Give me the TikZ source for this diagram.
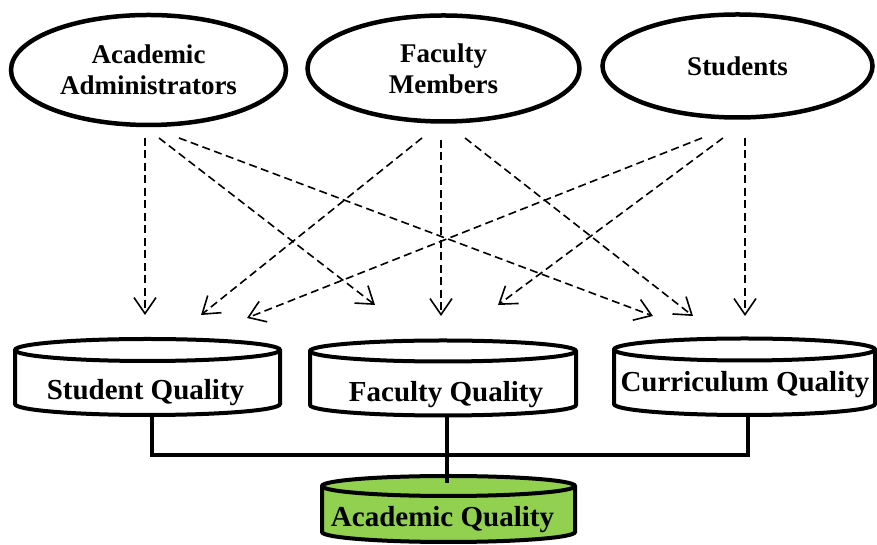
\documentclass[tikz,border=0pt]{standalone}
\usepackage{fontspec}
\setmainfont{Liberation Serif}
\usetikzlibrary{arrows.meta,shapes.geometric}
\definecolor{aqgreen}{HTML}{92D050}
% #1 left x, #2 right x, #3 top-ellipse centre y, #4 bottom-ellipse centre y, #5 y radius, #6 fill
\newcommand\drawdrum[6]{%
  \pgfmathsetmacro\drumrx{(#2-#1)/2}%
  \filldraw[drumline, fill=#6] (#1,#3) -- (#1,#4)
    arc[start angle=180, end angle=360, x radius=\drumrx, y radius=#5]
    -- (#2,#3)
    arc[start angle=0, end angle=180, x radius=\drumrx, y radius=#5] -- cycle;
  \draw[drumline] (#1,#3) arc[start angle=180, end angle=360, x radius=\drumrx, y radius=#5];
}
\begin{document}
\begin{tikzpicture}[x=1pt,y=1pt,
  actor/.style={ellipse, draw, line width=4.5pt, inner sep=0pt, align=center,
    font=\fontsize{27}{31}\selectfont\bfseries},
  drumline/.style={line width=4pt},
  drumlabel/.style={anchor=base, inner sep=0pt, font=\fontsize{29}{31}\selectfont\bfseries},
  flow/.style={line width=1.6pt, dash pattern=on 8pt off 4.5pt,
    -{Straight Barb[length=16pt,width=22pt]}},
  joint/.style={line width=4pt}]
\useasboundingbox (0,0) rectangle (877,545);

% top actors
\node[actor, minimum width=275pt, minimum height=110pt] (admin) at (148.5,475) {Academic\\Administrators};
\node[actor, minimum width=272pt, minimum height=106pt] (faculty) at (443.5,476.5) {Faculty\\Members};
\node[actor, minimum width=270pt, minimum height=103pt] (students) at (737.5,479) {Students};

% quality drums
\drawdrum{15}{280}{195}{141}{11}{white}
\drawdrum{310}{576}{194}{140}{10.5}{white}
\drawdrum{614}{875}{195.5}{141}{11}{white}
\drawdrum{322}{575}{59}{13}{10}{aqgreen}

\node[drumlabel] (sq) at (145.5,145) {Student Quality};
\node[drumlabel] (fq) at (446,143) {Faculty Quality};
\node[drumlabel] (cq) at (745,153) {Curriculum Quality};
\node[drumlabel] (aq) at (442.5,18) {Academic Quality};

% joints
\coordinate (sqb) at (152,130);
\coordinate (fqb) at (447,129);
\coordinate (cqb) at (748,130);
\coordinate (sqj) at (152,90);
\coordinate (cqj) at (748,90);
\coordinate (aqt) at (447,62);
\draw[joint] (sqb) -- (sqj) -- (cqj) -- (cqb);
\draw[joint] (fqb) -- (aqt);

% arrow ends
\coordinate (a1s) at (145,407);  \coordinate (a1e) at (145,230);
\coordinate (a2s) at (159,407);  \coordinate (a2e) at (375,240);
\coordinate (a3s) at (179,407);  \coordinate (a3e) at (653,229);
\coordinate (f1s) at (422,407);  \coordinate (f1e) at (201,230);
\coordinate (f2s) at (441,405);  \coordinate (f2e) at (441,229);
\coordinate (f3s) at (465,407);  \coordinate (f3e) at (693,229);
\coordinate (s1s) at (702,407);  \coordinate (s1e) at (247,227);
\coordinate (s2s) at (723,407);  \coordinate (s2e) at (498,240);
\coordinate (s3s) at (745,407);  \coordinate (s3e) at (745,229);

\draw[flow] (a1s) -- (a1e);
\draw[flow] (a2s) -- (a2e);
\draw[flow] (a3s) -- (a3e);
\draw[flow] (f1s) -- (f1e);
\draw[flow] (f2s) -- (f2e);
\draw[flow] (f3s) -- (f3e);
\draw[flow] (s1s) -- (s1e);
\draw[flow] (s2s) -- (s2e);
\draw[flow] (s3s) -- (s3e);
\end{tikzpicture}
\end{document}
